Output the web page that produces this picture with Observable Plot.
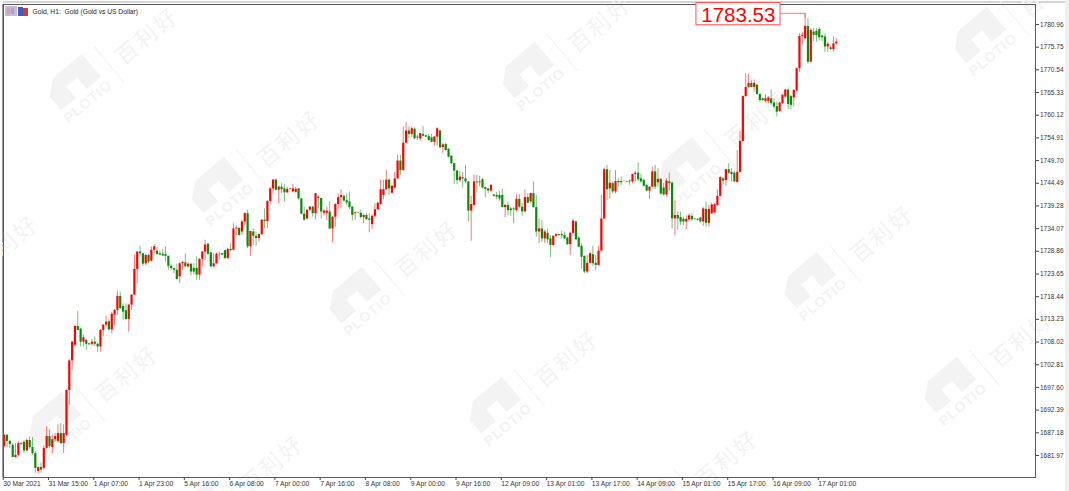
<!DOCTYPE html>
<html>
<head>
<meta charset="utf-8">
<script src="https://cdn.jsdelivr.net/npm/d3@7"></script>
<script src="https://cdn.jsdelivr.net/npm/@observablehq/plot@0.6"></script>
<style>
html,body{margin:0;padding:0;background:#fff;width:1069px;height:491px;overflow:hidden}
#wrap{position:relative;width:1069px;height:491px}
#wrap svg{position:absolute;left:0;top:0}
</style>
</head>
<body>
<div id="wrap"></div>
<script>
const opens = [
1684,1686.6,1685.2,1684.3,1681.5,1682,1684.7,1685,1683,1685.4,
1683.8,1682.4,1678.3,1679.2,1679,1683.6,1686.3,1683.8,1685.6,1685.2,
1687,1684.7,1686.6,1696.9,1703.7,1707.3,1711.6,1711,1708,1708.4,
1707.6,1707.5,1708,1707.5,1706.9,1710.7,1711.9,1712.7,1710.8,1714.2,
1715.3,1718.5,1716.2,1715.2,1713.2,1716.5,1718.8,1724.7,1728.7,1728.3,
1726,1727.9,1726.6,1729.1,1728.9,1728.3,1728.2,1728.1,1727.7,1725.4,
1724.9,1724.5,1723,1726,1726.2,1725.3,1725.9,1724.9,1724.9,1723.4,
1727,1728.7,1730.5,1728.5,1725.3,1726,1728.1,1728.3,1729,1727.2,
1729.3,1729.1,1734,1734.1,1733.3,1735.6,1737.5,1729.9,1733.3,1732.3,
1731.8,1732.7,1736,1735.7,1740.3,1743.2,1745.2,1742.9,1743.6,1743.2,
1742.3,1743.2,1742.5,1742.4,1743.2,1740.9,1737.4,1736.3,1738.3,1739,
1737.5,1741.3,1741,1737.6,1737.6,1737.9,1734,1736.7,1739.6,1741.2,
1741.5,1740.5,1740.2,1739,1737.5,1737.7,1737.6,1736.6,1737.1,1736.3,
1735,1736.9,1738.4,1739.6,1741.7,1743,1745.2,1742.2,1743.4,1745.5,
1749.6,1747.4,1753.7,1756.5,1755.7,1756.9,1754.9,1754.7,1755.7,1755.4,
1755.2,1754.9,1753.9,1755.1,1756.5,1752.7,1753.4,1752.3,1750.7,1749,
1747.3,1745.1,1745.8,1745.5,1744.8,1738.1,1739.4,1744.8,1744.6,1745.3,
1743.5,1743.2,1742.7,1741.8,1741.7,1741.7,1741.7,1738.9,1739.4,1738.6,
1738.6,1738.2,1740.8,1739,1737.9,1741.2,1740.2,1742.1,1738.9,1733.3,
1734,1731.7,1733,1731.7,1730.2,1732.3,1732.7,1732.7,1732.5,1731.9,
1730.4,1733,1735.6,1731.9,1730,1727.7,1724.1,1726.1,1728.1,1726.1,
1725.6,1728.9,1736.3,1747.6,1743.2,1744.4,1742.5,1744.9,1744.9,1744.9,
1744.9,1745,1744.8,1746.5,1746.8,1745.5,1745.1,1744,1742.7,1743.6,
1747.1,1744.6,1745.4,1743.4,1741.8,1744.8,1744.5,1736.3,1737.1,1736.6,
1736.2,1735.6,1736.1,1736.9,1736.3,1736.2,1736.5,1735.6,1738.5,1735.3,
1737.5,1737.7,1739.4,1741.5,1745.5,1745.1,1747.6,1747,1746.8,1744.7,
1747,1754.1,1764.4,1766.5,1767.4,1766.5,1767,1764.9,1763.9,1763.3,
1763.3,1763.9,1762.9,1762.1,1761,1762.8,1764.3,1765.9,1764.4,1764.1,
1765.7,1770.8,1778.2,1777.7,1780.5,1772.3,1779.2,1779.4,1779.8,1778.3,
1778.1,1775.8,1775.6,1775.2,1776.5];
const highs = [
1686.8,1686.8,1685.4,1684.7,1684.7,1685.2,1685,1685.4,1685.8,1686.3,
1686.1,1682.9,1679.3,1680.2,1684.1,1688.6,1687.9,1686.6,1687,1689,
1689.3,1689,1697.1,1704,1708.2,1711.8,1715.1,1711.2,1709.6,1708.6,
1707.8,1708.6,1709.2,1707.7,1710.9,1712,1713.9,1713.1,1714.9,1715.5,
1719.7,1719.5,1716.8,1716.8,1716.7,1718.9,1728,1728.8,1730.1,1728.4,
1728.2,1728.2,1729.9,1730.4,1729.7,1728.9,1729.3,1729.9,1727.8,1725.9,
1725,1725.9,1726.2,1726.6,1728.3,1726.2,1726,1726,1727.6,1727.2,
1728.8,1731.4,1730.6,1728.6,1728.3,1728.5,1728.7,1728.4,1729.1,1729.6,
1730.6,1735.2,1734.7,1734.4,1736,1737.7,1738.3,1733.5,1734,1733.3,
1732.9,1736.1,1738.6,1740.5,1743.4,1745.4,1745.5,1743.9,1744.4,1744.2,
1743.6,1743.4,1744.2,1743.6,1743.3,1741,1739,1738.4,1739.2,1739.2,
1742.2,1741.7,1741,1738.4,1739,1740.2,1736.9,1739.8,1742.1,1743,
1741.7,1742,1742.5,1739.1,1737.9,1737.8,1738.3,1737.4,1737.6,1737.5,
1737.2,1739.8,1740.2,1745.2,1745.2,1747.5,1745.5,1744,1747,1750.9,
1750.9,1757.4,1758.5,1757.4,1757.4,1757.2,1755.5,1755.9,1757.5,1755.5,
1755.7,1755.7,1755.2,1757.2,1756.6,1753.6,1753.7,1752.4,1750.8,1749,
1747.4,1747.2,1747,1748.6,1744.8,1741.5,1746.4,1746.3,1746.1,1745.6,
1743.6,1743.3,1744.2,1741.9,1742.4,1742.6,1743.2,1739.6,1740.2,1739,
1739,1741.9,1741.9,1739.8,1743,1742.1,1742.2,1744.8,1741.7,1736.3,
1735.9,1733.7,1734,1732.5,1732.5,1732.9,1732.8,1733.5,1733.3,1732.1,
1733.3,1736.3,1735.8,1732.3,1730.6,1727.8,1727.9,1728.7,1730,1727.9,
1730,1741.7,1748,1748.6,1747.4,1744.8,1747.4,1745.5,1745.9,1745.1,
1745,1745.3,1746.6,1747.3,1749.2,1746.5,1745.5,1744.2,1743.7,1748.2,
1748.6,1747.8,1745.5,1744.4,1745.5,1746.8,1744.8,1740.4,1737.9,1737.9,
1736.7,1737,1737.5,1737.5,1736.4,1736.4,1736.7,1738.9,1740.2,1739.4,
1740,1739.8,1743,1746,1745.8,1747.7,1749,1747.8,1747.3,1752,
1756.4,1764.6,1769.7,1769.5,1768.1,1768.2,1767.1,1765,1764.1,1764.8,
1764.4,1766,1763.9,1763.1,1763.1,1764.9,1766.1,1766.2,1764.7,1766,
1771,1778.8,1779.2,1783.53,1782.3,1780,1780,1780,1780.2,1778.5,
1778.8,1776.9,1776,1778.1,1777.7];
const lows = [
1683.8,1683.8,1683.6,1681.5,1681.3,1681.8,1684.2,1682.4,1682.8,1683.4,
1682,1677.9,1677.8,1677.9,1678.6,1683.4,1683.6,1682.4,1685,1684.8,
1684.5,1682.4,1686.3,1693.5,1701.5,1706.9,1710.6,1706.9,1706.9,1706.1,
1707.2,1707,1707,1705.7,1705.7,1709.2,1711.5,1710.6,1709.9,1711.8,
1714.2,1715.5,1713,1713,1710.3,1715.3,1718.7,1721.4,1727.6,1725.4,
1725.6,1726,1726.4,1728.3,1728,1727.9,1727.6,1726.4,1724.5,1724.5,
1723.7,1722.2,1721.4,1724.5,1725.1,1725,1723.2,1723.4,1722.1,1722.2,
1725.3,1726.8,1728,1725.1,1725.1,1725.9,1726.8,1727.9,1727,1727,
1728.7,1729,1732.5,1732.3,1732.5,1734.8,1729.5,1727.7,1730.2,1730,
1731,1732.5,1734,1734,1739.6,1742.1,1742.8,1739.8,1742.1,1740.2,
1742.1,1742.9,1742.3,1742.2,1740.6,1737.2,1735.8,1736.1,1738,1736.7,
1736.1,1738.6,1736.3,1737,1736,1733.8,1730.8,1734.4,1738.4,1738.6,
1740.2,1739.4,1738.4,1735.8,1736,1737.5,1736.3,1735.2,1736,1733.1,
1733.9,1736.6,1738.2,1739.4,1740.7,1742.9,1741.7,1742,1743.2,1745.4,
1746.3,1747.3,1753.6,1754.7,1755,1754.5,1754.3,1754.2,1755.2,1755,
1754.2,1753.8,1753,1753,1752.5,1751.4,1751.9,1750.3,1748.8,1744.2,
1744.2,1744.7,1743.4,1744.4,1735.6,1731.2,1739.3,1742.2,1743.7,1743.2,
1741.2,1742.1,1742.5,1741.3,1740.7,1740.4,1738.9,1736.6,1737,1736.9,
1735.2,1737.9,1738.6,1736.9,1737.8,1739.8,1739.9,1738.8,1732.1,1730.6,
1730.9,1730.7,1730.6,1727.4,1730,1732,1732.3,1731.7,1731.6,1730.2,
1727.9,1732.7,1731.4,1729.7,1724.8,1723.7,1723.7,1726,1725.4,1724.5,
1725.5,1728.7,1736.1,1740.5,1740.9,1742,1742,1743.6,1744,1744.8,
1744.6,1744,1744.4,1744.8,1744.8,1744.5,1743.6,1742.5,1740.8,1743.5,
1743,1743.6,1741.8,1741.7,1741.3,1742.8,1734,1732.5,1733.7,1734.8,
1734.8,1733.8,1735.8,1735.8,1736,1735.8,1735.3,1734.6,1734.4,1734.4,
1737.3,1737.5,1739.2,1741.4,1744,1743.8,1746.5,1744.8,1744.6,1744.5,
1746.8,1754,1764.2,1766.3,1766.4,1765.4,1764.7,1763.1,1763.3,1763,
1762.8,1762.4,1761.6,1759.7,1760.8,1762.6,1764.1,1761.4,1761.4,1762.1,
1765.5,1770,1776.2,1777.4,1771.8,1772.2,1777.1,1776.9,1777.2,1777,
1774.5,1774.5,1775,1774.6,1776.2];
const closes = [
1686.6,1685.2,1684.5,1681.5,1682,1684.7,1684.5,1683,1685.4,1683.8,
1682.4,1679,1679.2,1678.6,1683.6,1686.3,1684,1685.6,1686.3,1687,
1684.7,1687,1696.9,1703.7,1708,1711.6,1710.7,1708,1709,1707.5,
1707.4,1708,1707.5,1706.9,1710.7,1711.9,1712.6,1710.8,1714.4,1715.3,
1718.5,1715.7,1714.9,1713.2,1716.5,1718.8,1724.7,1728.7,1728.3,1725.9,
1727.9,1726.4,1729.1,1729.9,1728.1,1728,1727.8,1727.7,1725.4,1724.9,
1724.5,1722.4,1726,1726.3,1725.3,1725.9,1724.1,1724.1,1723.4,1727,
1728.7,1730.3,1728.2,1725.3,1726,1728.2,1728.2,1728,1727.2,1729.3,
1729,1734,1734.2,1732.5,1735.6,1737.5,1729.9,1733.4,1732.3,1731.8,
1732.7,1736,1735.7,1740.3,1743.2,1745.2,1742.9,1743.6,1743,1742.3,
1743.1,1743.1,1743.2,1743.1,1740.9,1737.4,1736,1738.3,1739,1737.5,
1742.1,1741,1737.9,1738.1,1738.1,1734,1736.7,1739.6,1741.2,1741.7,
1740.4,1740,1738.9,1737.1,1737.7,1737.6,1736.6,1737.1,1736.1,1736,
1736.9,1738.4,1739.9,1743,1743,1745.2,1743.2,1743.8,1745.5,1749.6,
1747.4,1753.7,1756.5,1755.7,1757,1754.7,1755.1,1755.9,1755.3,1755.1,
1754.3,1753.9,1755.1,1757,1752.6,1753.3,1752,1750.5,1749,1747.3,
1745.1,1745.9,1745.5,1744.8,1738.1,1739.6,1744.8,1744.6,1744.8,1743.4,
1743.1,1742.7,1744,1741.5,1741.3,1740.9,1738.9,1739.4,1738.2,1738.2,
1738.4,1740.8,1739,1737.9,1741.2,1739.9,1742.1,1738.9,1733.3,1734,
1731.7,1733.3,1731.5,1730.2,1732.3,1732.7,1732.5,1732.4,1731.7,1730.4,
1733,1735.8,1731.5,1729.8,1727.5,1724.1,1726.1,1728.3,1726,1725.6,
1728.9,1736.3,1747.6,1743,1744.5,1742.5,1744.9,1744.6,1744.6,1744.9,
1744.8,1744.8,1746.5,1746.8,1745.3,1744.8,1743.8,1742.7,1743.6,1747.1,
1743.6,1745.4,1742,1741.8,1745,1744.4,1736.3,1737.1,1736.3,1735.6,
1735.6,1736.2,1737,1736.1,1736.2,1736,1735.6,1738.6,1735.3,1738.5,
1739.5,1739.6,1741.5,1745.8,1745,1747.6,1746.8,1746.5,1744.8,1747,
1754.1,1764.4,1766.5,1767.4,1766.5,1767.4,1764.9,1763.5,1763.5,1763.9,
1764.1,1762.8,1762,1760.8,1762.9,1764.7,1765.9,1762.6,1762.4,1765.8,
1770.8,1778.2,1778.5,1780.5,1772.3,1779.6,1778.5,1778.4,1777.9,1777.9,
1775.8,1776.4,1775.2,1776.5,1776.9];

const priceTicks = [1780.96,1775.75,1770.54,1765.33,1760.12,1754.91,1749.70,1744.49,1739.28,1734.07,1728.86,1723.65,1718.44,1713.23,1708.02,1702.81,1697.60,1692.39,1687.18,1681.97];
const timeLabels = ["30 Mar 2021","31 Mar 15:00","1 Apr 07:00","1 Apr 23:00","5 Apr 16:00","6 Apr 08:00","7 Apr 00:00","7 Apr 16:00","8 Apr 08:00","9 Apr 00:00","9 Apr 16:00","12 Apr 09:00","13 Apr 01:00","13 Apr 17:00","14 Apr 09:00","15 Apr 01:00","15 Apr 17:00","16 Apr 09:00","17 Apr 01:00"];
const barsPerLabel = 16;
const title = "Gold, H1:  Gold (Gold vs US Dollar)";
const peakPrice = 1783.53;
const peakBar = 283;

const bars = opens.map((o,i)=>({i,o,h:highs[i],l:lows[i],c:closes[i],col:closes[i]>=o?"#ff0000":"#0a8a0a"}));
const font = "'Liberation Sans',Arial,sans-serif";

const chart = Plot.plot({
  width:1069, height:491,
  marginLeft:3, marginRight:34, marginTop:4, marginBottom:14,
  style:{background:"transparent",fontFamily:font},
  x:{domain:[-0.25,364.4],axis:null},
  y:{domain:[1676.91,1785.55],axis:null},
  marks:[
    Plot.ruleX(bars,{x:"i",y1:"l",y2:"h",stroke:"col",strokeWidth:1,strokeOpacity:0.55}),
    Plot.ruleX(bars,{x:"i",y1:"o",y2:"c",stroke:"col",strokeWidth:2.2}),
    Plot.frame({stroke:"#5a5a5a",strokeWidth:1}),
    Plot.axisY({anchor:"right",ticks:priceTicks,tickSize:3,tickPadding:1.5,stroke:"#444",tickFormat:d=>d.toFixed(2),fontSize:6.5,fill:"#333",label:null}),
    Plot.axisX({anchor:"bottom",ticks:timeLabels.map((_,k)=>k*barsPerLabel),tickSize:3,tickPadding:1,stroke:"#444",tickFormat:d=>timeLabels[d/barsPerLabel],textAnchor:"start",dx:-1,fontSize:6.7,fill:"#333",label:null}),
    // price callout tied to the session high
    Plot.rect([{x1:peakBar-38.4,x2:peakBar-8.7,y1:peakPrice-2.75,y2:peakPrice+2.35}],{x1:"x1",x2:"x2",y1:"y1",y2:"y2",fill:"#fff",stroke:"#ff5050",strokeWidth:1}),
    Plot.line([[peakBar-8.7,peakPrice],[peakBar,peakPrice],[peakBar,peakPrice-0.9]],{stroke:"#ff7070",strokeWidth:1}),
    Plot.text([peakPrice],{x:peakBar-23.6,y:peakPrice-0.4,text:d=>d.toFixed(2),fill:"#ff0000",fontSize:20.5,fontFamily:font}),
    Plot.text([title],{frameAnchor:"top-left",dx:29,dy:5,fontSize:6.7,fill:"#222",fontFamily:font,textAnchor:"start"})
  ]
});

// faint brand watermark and window chrome, behind the chart
const wmAnchors = [[80,92],[533,80],[985,45],[222,195],[690,175],[360,305],[815,290],[60,430],[500,415],[955,395],[205,520],[660,515],[-60,300]];
const ns = d3.create("svg").attr("width",1069).attr("height",491);
ns.append("rect").attr("x",1065).attr("y",0).attr("width",4).attr("height",491).attr("fill","#efefef");
ns.append("rect").attr("x",2).attr("y",4).attr("width",1).attr("height",473).attr("fill","#999");
ns.append("rect").attr("x",3).attr("y",1.5).attr("width",1062).attr("height",1).attr("fill","#aaa");
const wmColor = "#f3f3f3";
for (const [x,y] of wmAnchors){
  const g = ns.append("g").attr("transform",`translate(${x},${y}) rotate(-40)`);
  g.append("path").attr("d","M-26,2 L-26,-16 L-12,-28 L26,-28 L26,2 L7,2 L7,-13 L-7,-13 L-7,2 Z").attr("fill",wmColor);
  g.append("text").attr("x",0).attr("y",17).attr("text-anchor","middle").attr("font-family",font).attr("font-weight","bold").attr("font-size",14).attr("fill",wmColor).attr("letter-spacing",1).text("PLOTIO");
  g.append("line").attr("x1",40).attr("x2",40).attr("y1",-26).attr("y2",22).attr("stroke",wmColor).attr("stroke-width",1.2);
  g.append("text").attr("x",50).attr("y",8).attr("font-family","'Noto Sans CJK SC'").attr("font-size",22).attr("letter-spacing",3).attr("fill",wmColor).text("百利好");
}
const icons = ns.append("g");
[["#c9b8d8",5,6,12,10],["#e89a9a",7,8,3,6],["#9aa8e0",11,8,3,6],["#3d5fc0",18,7,5,9],["#cf3b3b",23,8,5,8]].forEach(([c,x,y,w,h])=>{
  icons.append("rect").attr("x",x).attr("y",y).attr("width",w).attr("height",h).attr("fill",c);
});

const wrap = document.getElementById("wrap");
wrap.append(ns.node());
wrap.append(chart);
</script>
</body>
</html>
